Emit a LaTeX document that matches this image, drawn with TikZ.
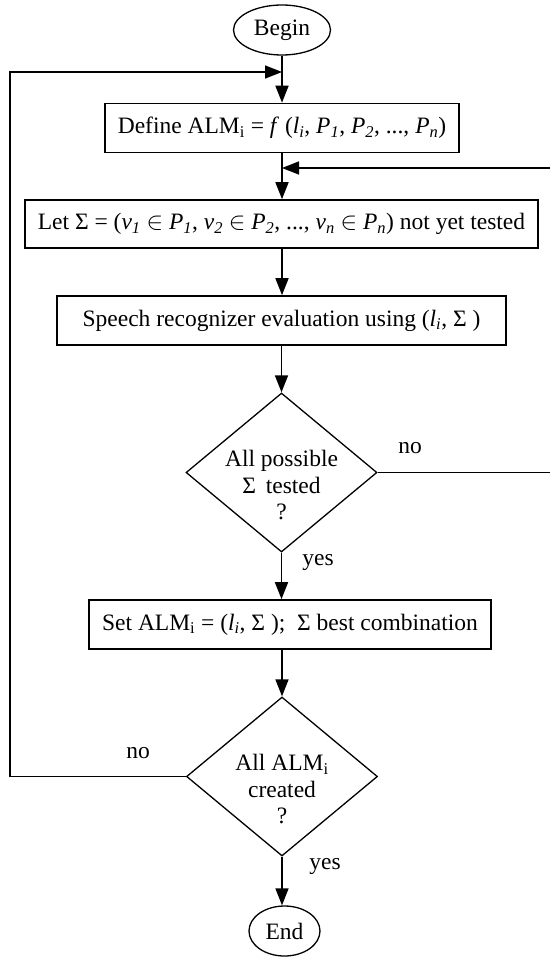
\documentclass[tikz,border=0pt]{standalone}
\usepackage{fontspec}
\setmainfont{Liberation Serif}
\usetikzlibrary{shapes.geometric,arrows.meta,calc}

\newcommand{\itsub}[2]{\textit{#1}\textsubscript{\textit{#2}}}

\tikzset{
  flowbox/.style={draw, line width=1.6pt, inner sep=0pt, minimum height=49pt},
  terminal/.style={draw, ellipse, line width=1.3pt, inner sep=0pt, minimum height=50pt},
  decision/.style={draw, diamond, line width=1.3pt, inner sep=0pt, minimum width=191pt, minimum height=159pt},
  flowline/.style={line width=1.6pt},
  flowarrow/.style={line width=1.6pt, -{Triangle[length=17pt,width=13pt]}}
}

\begin{document}
\begin{tikzpicture}[x=1pt, y=-1pt, font=\fontsize{23.5}{26.5}\selectfont]
  \useasboundingbox (0,0) rectangle (550,958);

  % Terminals
    \node[terminal, minimum width=97pt] (begin) at (282,30) {Begin};
    \node[terminal, minimum width=71pt] (end) at (284.5,931) {End};

  % Boxes
    \node[flowbox, minimum width=354pt] (define) at (282,128)
      {Define ALM\textsubscript{i} = \textit{f} (\itsub{l}{i}, \itsub{P}{1}, \itsub{P}{2}, ..., \itsub{P}{n})};
    \node[flowbox, minimum width=513pt, minimum height=48pt] (let) at (281.5,224)
      {Let Σ = (\itsub{v}{1} $\in$ \itsub{P}{1}, \itsub{v}{2} $\in$ \itsub{P}{2}, ..., \itsub{v}{n} $\in$ \itsub{P}{n}) not yet tested};
    \node[flowbox, minimum width=449pt] (speech) at (281.5,320.5)
      {Speech recognizer evaluation using (\itsub{l}{i}, Σ )};
    \node[flowbox, minimum width=402pt] (setalm) at (290,624.5)
      {Set ALM\textsubscript{i} = (\itsub{l}{i}, Σ ); \ Σ best combination};

  % Decisions
    \node[decision] (testall) at (281.5,472.5) {};
    \node[align=center] (testalltext) at ([yshift=-13pt]testall.center)
      {All possible\\Σ \,tested\\?};
    \node[decision] (createall) at (282,776.5) {};
    \node[align=center] (createalltext) at ([yshift=-13pt]createall.center)
      {All ALM\textsubscript{i}\\created\\?};

  % Labels
    \node (noA) at (410,448) {no};
    \node (yesA) at (318,562) {yes};
    \node (noB) at (138,753) {no};
    \node (yesB) at (325,866) {yes};

  % Loop ends
    \coordinate (lefttop) at (10,72);
    \coordinate (rightin) at (550,168);

  % Connectors
    \draw[flowarrow] (begin) -- (define);
    \draw[flowarrow] (define) -- (let.north -| define.south);
    \draw[flowarrow] (let.south -| define.south) -- (speech.north -| define.south);
    \draw[flowarrow] (speech.south -| testall.north) -- (testall);
    \draw[flowarrow] (testall) -- (setalm.north -| testall.south);
    \draw[flowarrow] (setalm.south -| createall.north) -- (createall);
    \draw[flowarrow] (createall) -- (end.north -| createall.south);

  % Loops back
    \draw[flowline] (testall.east) -- (testall.east -| rightin);
    \draw[flowarrow] (rightin) -- (rightin -| define.south);
    \draw[flowarrow] (createall.west) -| (lefttop) -- (lefttop -| begin.south);

  \end{tikzpicture}
\end{document}
